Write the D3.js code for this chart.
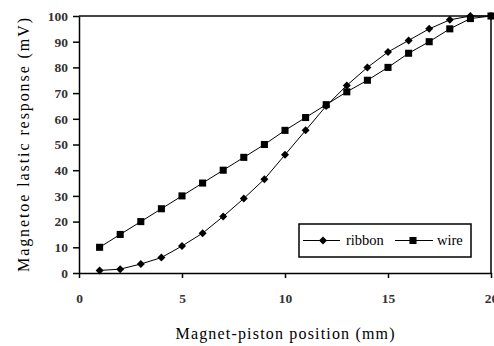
<!DOCTYPE html>
<html>
<head>
<meta charset="utf-8">
<script src="https://cdn.jsdelivr.net/npm/d3@7"></script>
<style>
body { margin: 0; background: #fff; }
.axis path, .axis line { stroke: #000; stroke-width: 1.5; }
</style>
</head>
<body>
<div id="chart"></div>
<script>
// positions in mm
var positions = [1, 2, 3, 4, 5, 6, 7, 8, 9, 10, 11, 12, 13, 14, 15, 16, 17, 18, 19, 20];
// response in mV
var ribbon = [1, 1.5, 3.5, 6, 10.5, 15.5, 22, 29, 36.5, 46, 55.5, 65, 73, 80, 86, 90.5, 95, 98.5, 100, 100];
var wire = [10, 15, 20, 25, 30, 35, 40, 45, 50, 55.5, 60.5, 65.5, 70.5, 75, 80, 85.5, 90, 95, 99, 100];
var xTicks = [0, 5, 10, 15, 20];
var yTicks = [0, 10, 20, 30, 40, 50, 60, 70, 80, 90, 100];

var serif = "'Liberation Serif', 'Times New Roman', 'DejaVu Serif', serif";
var width = 494, height = 346;
var margin = { top: 16, right: 3, bottom: 73, left: 79 };
var chartW = width - margin.left - margin.right;
var chartH = height - margin.top - margin.bottom;

var svg = d3.select("#chart").append("svg")
	.attr("width", width)
	.attr("height", height)
	.style("font-family", serif);

var panel = svg.append("g")
	.attr("transform", "translate(" + margin.left + "," + margin.top + ")");

var xScale = d3.scaleLinear().domain([0, 20]).range([0, chartW]);
var yScale = d3.scaleLinear().domain([0, 100]).range([chartH, 0]);

// frame top and right
panel.append("line")
	.attr("x1", 0).attr("x2", chartW).attr("y1", 0).attr("y2", 0)
	.attr("stroke", "#444").attr("stroke-width", 2);
panel.append("line")
	.attr("x1", chartW).attr("x2", chartW).attr("y1", 0).attr("y2", chartH)
	.attr("stroke", "#000").attr("stroke-width", 1.5);

// axes
var gx = panel.append("g")
	.attr("class", "axis")
	.attr("transform", "translate(0," + chartH + ")")
	.call(d3.axisBottom(xScale).tickValues(xTicks).tickSize(5).tickSizeOuter(0).tickPadding(15));

var gy = panel.append("g")
	.attr("class", "axis")
	.call(d3.axisLeft(yScale).tickValues(yTicks).tickSize(6).tickSizeOuter(0).tickPadding(5));

[gx, gy].forEach(function(g) {
	g.attr("font-family", serif).attr("font-size", 13.5);
	g.selectAll("text").attr("font-weight", "bold").attr("fill", "#333");
});

var data1 = positions.map(function(p, i) { return { x: p, y: ribbon[i] }; });
var data2 = positions.map(function(p, i) { return { x: p, y: wire[i] }; });

var line = d3.line()
	.x(function(d) { return xScale(d.x); })
	.y(function(d) { return yScale(d.y); });

panel.append("path").datum(data1)
	.attr("d", line).attr("fill", "none").attr("stroke", "#000").attr("stroke-width", 1);
panel.append("path").datum(data2)
	.attr("d", line).attr("fill", "none").attr("stroke", "#000").attr("stroke-width", 1);

// diamond = square turned 45 degrees
var diamond = d3.symbol().type(d3.symbolSquare).size(32);
var square = d3.symbol().type(d3.symbolSquare).size(50);

panel.selectAll(".rib").data(data1).enter().append("path")
	.attr("class", "rib")
	.attr("d", diamond)
	.attr("transform", function(d) { return "translate(" + xScale(d.x) + "," + yScale(d.y) + ") rotate(45)"; })
	.attr("fill", "#000");

panel.selectAll(".wir").data(data2).enter().append("path")
	.attr("class", "wir")
	.attr("d", square)
	.attr("transform", function(d) { return "translate(" + xScale(d.x) + "," + yScale(d.y) + ")"; })
	.attr("fill", "#000");

// legend
var lg = svg.append("g").attr("transform", "translate(299,224)");
lg.append("rect")
	.attr("width", 172).attr("height", 33)
	.attr("fill", "#fff").attr("stroke", "#000").attr("stroke-width", 1.5);
lg.append("line").attr("x1", 4).attr("x2", 41).attr("y1", 16.5).attr("y2", 16.5).attr("stroke", "#000");
lg.append("path").attr("d", diamond).attr("transform", "translate(24,16.5) rotate(45)").attr("fill", "#000");
lg.append("text").attr("x", 47).attr("y", 21).style("font-size", "14.5px").text("ribbon");
lg.append("line").attr("x1", 96).attr("x2", 134).attr("y1", 16.5).attr("y2", 16.5).attr("stroke", "#000");
lg.append("path").attr("d", square).attr("transform", "translate(114,16.5)").attr("fill", "#000");
lg.append("text").attr("x", 138).attr("y", 21).style("font-size", "14.5px").text("wire");

// axis titles
svg.append("text")
	.attr("text-anchor", "middle")
	.attr("x", margin.left + chartW / 2)
	.attr("y", 339)
	.attr("textLength", 219)
	.attr("lengthAdjust", "spacing")
	.style("font-size", "16px")
	.text("Magnet-piston position (mm)");

svg.append("text")
	.attr("text-anchor", "middle")
	.attr("transform", "translate(29,145) rotate(-90)")
	.attr("textLength", 254)
	.attr("lengthAdjust", "spacing")
	.style("font-size", "16px")
	.text("Magnetoe lastic response (mV)");
</script>
</body>
</html>
